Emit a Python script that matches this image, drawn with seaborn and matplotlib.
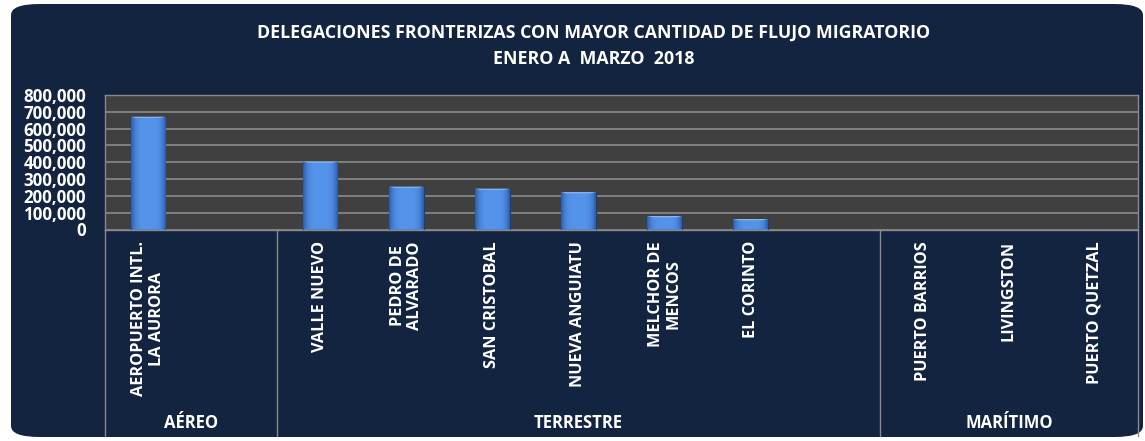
import numpy as np
import pandas as pd
import matplotlib
matplotlib.use('Agg')
import matplotlib.pyplot as plt
import matplotlib.transforms as mtransforms
from matplotlib.patches import FancyBboxPatch
import seaborn as sns

# datos
slots = ['AEROPUERTO INTL.\nLA AURORA', ' ',
         'VALLE NUEVO', 'PEDRO DE\nALVARADO', 'SAN CRISTOBAL', 'NUEVA ANGUIATU',
         'MELCHOR DE\nMENCOS', 'EL CORINTO', '  ',
         'PUERTO BARRIOS', 'LIVINGSTON', 'PUERTO QUETZAL']
valores = [671000, 0, 404000, 255000, 243000, 222000, 80000, 62000, 0, 0, 0, 0]
grupos = ['AÉREO', 'TERRESTRE', 'MARÍTIMO']
grupo_tam = [2, 7, 3]
titulo = 'DELEGACIONES FRONTERIZAS CON MAYOR CANTIDAD DE FLUJO MIGRATORIO\nENERO A  MARZO  2018'
yticks = np.arange(0, 800001, 100000)

sns.set_style('dark')
plt.rcParams['font.family'] = ['Open Sans', 'DejaVu Sans']

W, H = 1145, 441
fig = plt.figure(figsize=(W / 100, H / 100), dpi=100)
fig.patch.set_facecolor('white')

# fondo redondeado
bg = FancyBboxPatch((11 / W, 4 / H), (W - 13) / W, (H - 8) / H,
                    boxstyle='round,pad=0,rounding_size=0.025',
                    transform=fig.transFigure, facecolor='#12243f',
                    edgecolor='none', zorder=-5)
fig.patches.append(bg)

ax = fig.add_axes([105 / W, 1 - 229.5 / H, (1138 - 105) / W, 134.5 / H])
df = pd.DataFrame({'slot': slots, 'valor': valores})
sns.barplot(data=df, x='slot', y='valor', order=slots, color='#4a86d2',
            width=0.4, ax=ax, zorder=3)

ax.set_facecolor('#404040')
ax.set_yticks(yticks)
ax.set_yticklabels([f'{v:,.0f}' for v in yticks], color='white',
                   fontsize=12.2, fontweight='bold')
ax.tick_params(axis='y', length=0, pad=13.5)
ax.set_xticks([])
ax.set_xlabel('')
ax.set_ylabel('')
ax.grid(axis='y', color='#8a8a8a', linewidth=1.2, zorder=1)
for s in ax.spines.values():
    s.set_color('#8a8a8a')
    s.set_linewidth(1)

# degradado en barras
grad = np.linspace(0, 1, 64)
grad = 1 - (2 * grad - 1) ** 4
img = np.zeros((1, 64, 4))
c_dark = np.array([0.17, 0.36, 0.66])
c_light = np.array([0.33, 0.58, 0.92])
img[0, :, :3] = c_dark + (c_light - c_dark) * grad[:, None]
img[0, :, 3] = 1
for p in list(ax.patches):
    h = p.get_height()
    if h <= 0:
        p.set_linewidth(0)
        continue
    x0 = p.get_x()
    w = p.get_width()
    p.set_edgecolor('#1f3f70')
    p.set_linewidth(0.8)
    im = ax.imshow(img, extent=[x0, x0 + w, 0, h], aspect='auto', zorder=4)
    im.set_clip_path(p)
    ax.fill([x0, x0 + w, x0 + w * 0.85, x0 + w * 0.15],
            [h, h, h - 7000, h - 7000], color='#8fb8ee', zorder=5, lw=0)
ax.set_xlim(-0.5, len(slots) - 0.5)
ax.set_ylim(0, 800000)

# etiquetas de categoria
trans = mtransforms.blended_transform_factory(ax.transData, fig.transFigure)
for i, lab in enumerate(slots):
    if lab.strip() == '':
        continue
    ax.text(i, 1 - 241 / H, lab, transform=trans, rotation=90, ha='center',
            va='top', multialignment='center', color='white',
            fontsize=11.7, fontweight='bold', clip_on=False, linespacing=1.1)

# grupos y divisiones
pos = -0.5
for g, n in zip(grupos, grupo_tam):
    ax.text(pos + n / 2, 1 - 423 / H, g, transform=trans, ha='center',
            va='center', color='white', fontsize=12, fontweight='bold',
            clip_on=False)
    pos += n
bordes = [-0.5, 1.5, 8.5, 11.5]
for b in bordes:
    ax.plot([b, b], [1 - 229.5 / H, 1 - 436 / H], transform=trans,
            color='#8a8a8a', lw=1, clip_on=False)

fig.text(594 / W, 1 - 46 / H, titulo, ha='center', va='center',
         color='white', fontsize=12.8, fontweight='bold', linespacing=1.55)

fig.savefig('out.png', dpi=100, facecolor=fig.get_facecolor())
